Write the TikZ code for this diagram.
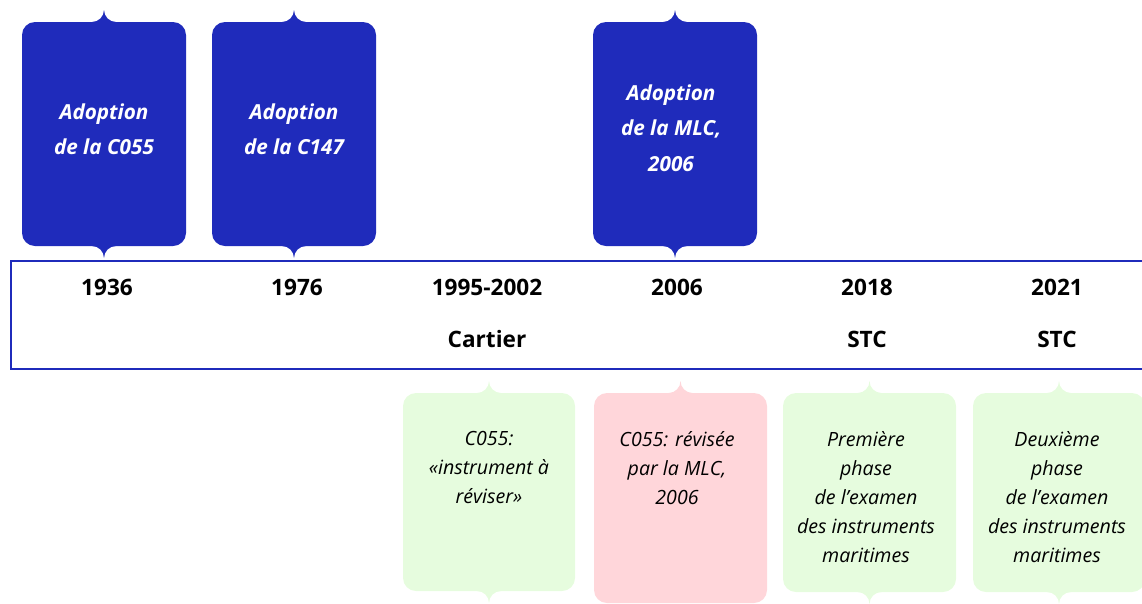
\documentclass[tikz,border=0pt]{standalone}
\usepackage{fontspec}
\setmainfont{Open Sans}
\definecolor{tlblue}{HTML}{1F2BBB}
\definecolor{tlgreen}{HTML}{E6FCDE}
\definecolor{tlpink}{HTML}{FFD6DA}
\tikzset{
  bluebox/.style={rectangle, rounded corners=13pt, fill=tlblue, draw=none, inner sep=0pt, outer sep=0pt},
  greenbox/.style={rectangle, rounded corners=13pt, fill=tlgreen, draw=none, inner sep=0pt, outer sep=0pt},
  pinkbox/.style={rectangle, rounded corners=13pt, fill=tlpink, draw=none, inner sep=0pt, outer sep=0pt},
  bluetext/.style={text=white, align=center, inner sep=0pt, font=\fontsize{20.7}{35.5}\selectfont\bfseries\itshape},
  lowtext/.style={text=black, align=center, inner sep=0pt, font=\fontsize{19.6}{29}\selectfont\itshape},
  yeartext/.style={text=black, inner sep=0pt, font=\fontsize{22.6}{26}\selectfont\bfseries},
  notchN/.pic={\fill (-12,1) -- (-12,0) .. controls (-5.4,0) and (0,-5.4) .. (0,-12) .. controls (0,-5.4) and (5.4,0) .. (12,0) -- (12,1) -- cycle;},
  notchS/.pic={\fill (-12,-1) -- (-12,0) .. controls (-5.4,0) and (0,5.4) .. (0,12) .. controls (0,5.4) and (5.4,0) .. (12,0) -- (12,-1) -- cycle;},
}
\begin{document}
\begin{tikzpicture}[x=1pt,y=-1pt]
\useasboundingbox (0,0) rectangle (1142,603);
\clip (0,0) rectangle (1142,603);

% band
\coordinate (bandTL) at (11,261);
\coordinate (bandBR) at (1160,369);
\draw[tlblue, line width=2.5pt] (bandTL) rectangle (bandBR);

% upper blue boxes
\node[bluebox, minimum width=164, minimum height=224] (b1) at (104,134) {};
\node[bluebox, minimum width=164, minimum height=224] (b2) at (294,134) {};
\node[bluebox, minimum width=164, minimum height=224] (b3) at (675,134) {};
\foreach \n in {b1,b2,b3}{
  \pic[tlblue] at (\n.north) {notchN};
  \pic[tlblue] at (\n.south) {notchS};
}
\node[bluetext] (t1) at (104,129) {Adoption\\de la C055};
\node[bluetext] (t2) at (294,129) {Adoption\\de la C147};
\node[bluetext] (t3) at (671,128) {Adoption\\de la MLC,\\2006};

% years
\node[yeartext] (y1) at (107,287) {1936};
\node[yeartext] (y2) at (297,287) {1976};
\node[yeartext] (y3) at (487,287) {1995-2002};
\node[yeartext] (y4) at (677,287) {2006};
\node[yeartext] (y5) at (867,287) {2018};
\node[yeartext] (y6) at (1057,287) {2021};
\node[yeartext] (l3) at (487,339) {Cartier};
\node[yeartext] (l5) at (867,339) {STC};
\node[yeartext] (l6) at (1057,339) {STC};

% lower boxes
\node[greenbox, minimum width=172, minimum height=198] (g1) at (489,492) {};
\node[pinkbox, minimum width=173, minimum height=210] (p1) at (680.5,498) {};
\node[greenbox, minimum width=173, minimum height=199] (g2) at (869.5,492.5) {};
\node[greenbox, minimum width=172, minimum height=199] (g3) at (1059,492.5) {};
\pic[tlgreen] at (g1.north) {notchN};
\pic[tlgreen] at (g1.south) {notchS};
\pic[tlpink] at (p1.north) {notchN};
\pic[tlgreen] at (g2.north) {notchN};
\pic[tlgreen] at (g2.south) {notchS};
\pic[tlgreen] at (g3.north) {notchN};
\pic[tlgreen] at (g3.south) {notchS};

\node[lowtext] (gt1) at (489,467) {C055:\\«instrument à\\réviser»};
\node[lowtext] (pt1) at (677,468) {C055: révisée\\par la MLC,\\2006};
\node[lowtext] (gt2) at (866,497) {Première\\phase\\de l’examen\\des instruments\\maritimes};
\node[lowtext] (gt3) at (1057,497) {Deuxième\\phase\\de l’examen\\des instruments\\maritimes};
\end{tikzpicture}
\end{document}
